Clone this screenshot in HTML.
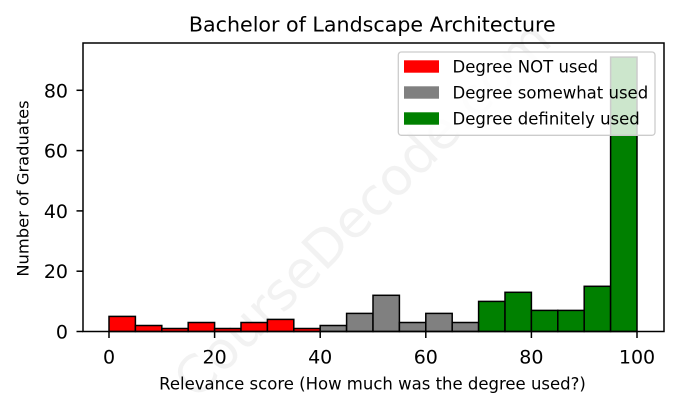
<!DOCTYPE html>
<html><head><meta charset="utf-8"><style>
html,body{margin:0;padding:0;background:#fff;}
svg{display:block;font-family:"DejaVu Sans","Liberation Sans",sans-serif;}
</style></head><body>
<svg width="678" height="408" viewBox="0 0 678 408" xmlns="http://www.w3.org/2000/svg">
<rect width="678" height="408" fill="#fff"/>
<text x="375" y="222" transform="rotate(-45 375 222)" text-anchor="middle" font-size="52" fill="#000" fill-opacity="0.05">CourseDecode.com</text>
<g stroke="#000" stroke-width="1.5">
<rect x="109" y="316.4" width="26.4" height="15.1" fill="#ff0000"/>
<rect x="135.4" y="325.5" width="26.4" height="6" fill="#ff0000"/>
<rect x="161.8" y="328.5" width="26.4" height="3" fill="#ff0000"/>
<rect x="188.2" y="322.5" width="26.4" height="9" fill="#ff0000"/>
<rect x="214.6" y="328.5" width="26.4" height="3" fill="#ff0000"/>
<rect x="241" y="322.5" width="26.4" height="9" fill="#ff0000"/>
<rect x="267.4" y="319.4" width="26.4" height="12.1" fill="#ff0000"/>
<rect x="293.8" y="328.5" width="26.4" height="3" fill="#ff0000"/>
<rect x="320.2" y="325.5" width="26.4" height="6" fill="#808080"/>
<rect x="346.6" y="313.4" width="26.4" height="18.1" fill="#808080"/>
<rect x="373" y="295.3" width="26.4" height="36.2" fill="#808080"/>
<rect x="399.4" y="322.5" width="26.4" height="9" fill="#808080"/>
<rect x="425.8" y="313.4" width="26.4" height="18.1" fill="#808080"/>
<rect x="452.2" y="322.5" width="26.4" height="9" fill="#808080"/>
<rect x="478.6" y="301.4" width="26.4" height="30.1" fill="#008000"/>
<rect x="505" y="292.3" width="26.4" height="39.2" fill="#008000"/>
<rect x="531.4" y="310.4" width="26.4" height="21.1" fill="#008000"/>
<rect x="557.8" y="310.4" width="26.4" height="21.1" fill="#008000"/>
<rect x="584.2" y="286.3" width="26.4" height="45.2" fill="#008000"/>
<rect x="610.6" y="57.1" width="26.4" height="274.4" fill="#008000"/>
</g>
<rect x="83" y="43" width="581" height="288.5" fill="none" stroke="#000" stroke-width="1.5"/>
<g stroke="#000" stroke-width="1.5">
<line x1="109" y1="331.5" x2="109" y2="338"/>
<line x1="214.6" y1="331.5" x2="214.6" y2="338"/>
<line x1="320.2" y1="331.5" x2="320.2" y2="338"/>
<line x1="425.8" y1="331.5" x2="425.8" y2="338"/>
<line x1="531.4" y1="331.5" x2="531.4" y2="338"/>
<line x1="637" y1="331.5" x2="637" y2="338"/>
<line x1="76.5" y1="331.5" x2="83" y2="331.5"/>
<line x1="76.5" y1="271.2" x2="83" y2="271.2"/>
<line x1="76.5" y1="210.9" x2="83" y2="210.9"/>
<line x1="76.5" y1="150.6" x2="83" y2="150.6"/>
<line x1="76.5" y1="90.3" x2="83" y2="90.3"/>
</g>
<g font-size="19" fill="#000" text-anchor="middle">
<text x="109" y="363.3">0</text>
<text x="214.6" y="363.3">20</text>
<text x="320.2" y="363.3">40</text>
<text x="425.8" y="363.3">60</text>
<text x="531.4" y="363.3">80</text>
<text x="637" y="363.3">100</text>
</g>
<g font-size="19" fill="#000" text-anchor="end">
<text x="68" y="338.5">0</text>
<text x="68" y="278.2">20</text>
<text x="68" y="217.9">40</text>
<text x="68" y="157.6">60</text>
<text x="68" y="97.3">80</text>
</g>
<text x="372.5" y="389.3" font-size="16.5" text-anchor="middle" fill="#000">Relevance score (How much was the degree used?)</text>
<text x="0" y="0" transform="translate(28.5 188.5) rotate(-90)" font-size="16.3" text-anchor="middle" fill="#000">Number of Graduates</text>
<text x="372.3" y="31.7" font-size="20.6" text-anchor="middle" fill="#000">Bachelor of Landscape Architecture</text>
<rect x="398.3" y="52" width="256.7" height="83.3" rx="3" ry="3" fill="#fff" fill-opacity="0.8" stroke="#cccccc" stroke-width="1.3"/>
<rect x="404" y="60.3" width="35" height="12.4" fill="#ff0000"/>
<rect x="404" y="86.3" width="35" height="12.4" fill="#808080"/>
<rect x="404" y="112.3" width="35" height="12.4" fill="#008000"/>
<g font-size="16.5" fill="#000">
<text x="452.5" y="72.3">Degree NOT used</text>
<text x="452.5" y="98.3">Degree somewhat used</text>
<text x="452.5" y="124.3">Degree definitely used</text>
</g>
</svg>
</body></html>
